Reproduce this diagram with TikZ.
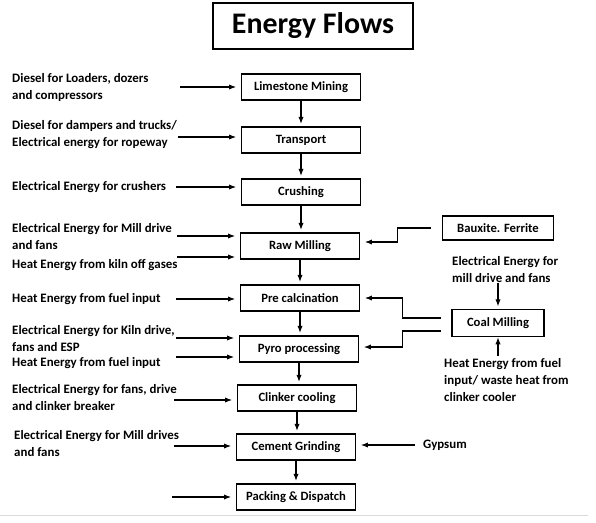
\documentclass[tikz,border=0pt]{standalone}
\usepackage{fontspec}
\setmainfont{Carlito}
\usetikzlibrary{arrows.meta, positioning, calc}

\begin{document}
\begin{tikzpicture}[
    x=0.03cm, y=-0.03cm,
    stage/.style={rectangle, draw, line width=1.3pt, minimum width=3.57cm, minimum height=0.78cm, inner sep=0pt, font=\bfseries\fontsize{10.8}{12}\selectfont},
    input/.style={anchor=west, align=left, inner sep=0pt, font=\bfseries\fontsize{11}{14.5}\selectfont},
    arrow/.style={-{Latex[length=6pt, width=4.5pt]}, line width=0.9pt},
    feed/.style={arrow, shorten >=4pt}
]

    % Frame of the page
    \useasboundingbox (0,0) rectangle (596,522);
    \draw[black!15, line width=0.8pt] (0,515) -- (588,515);

    % Title
    \node[draw, line width=1pt, minimum width=6cm, minimum height=1.38cm, font=\bfseries\fontsize{25.5}{30}\selectfont] (title) at (313,26) {Energy Flows};

    % --- Process chain ---
    \node[stage] (mining) at (301,87) {Limestone Mining};
    \node[stage] (transport) at (301,140) {Transport};
    \node[stage] (crushing) at (301,192) {Crushing};
    \node[stage] (rawmill) at (300,246) {Raw Milling};
    \node[stage] (precalc) at (300,298) {Pre calcination};
    \node[stage] (pyro) at (299,349) {Pyro processing};
    \node[stage] (cooling) at (297,398) {Clinker cooling};
    \node[stage] (grinding) at (296,447) {Cement Grinding};
    \node[stage] (packing) at (296,497) {Packing \& Dispatch};

    \foreach \a/\b in {mining/transport, transport/crushing, crushing/rawmill, rawmill/precalc,
        precalc/pyro, pyro/cooling, cooling/grinding, grinding/packing}
        \draw[arrow, shorten >=2pt] (\a.south) -- (\a.south |- \b.north);

    % --- Left side inputs ---
    \node[input] (dieselLoad) at (12,87) {Diesel for Loaders, dozers\\and compressors};
    \node[input] (dieselTruck) at (12,135) {Diesel for dampers and trucks/\\Electrical energy for ropeway};
    \node[input] (elecCrush) at (12,187) {Electrical Energy for crushers};
    \node[input] (elecRaw) at (12,237) {Electrical Energy for Mill drive\\and fans};
    \node[input] (heatKiln) at (12,265) {Heat Energy from kiln off gases};
    \node[input] (heatPre) at (12,299) {Heat Energy from fuel input};
    \node[input] (elecKiln) at (12,339) {Electrical Energy for Kiln drive,\\fans and ESP};
    \node[input] (heatPyro) at (12,363) {Heat Energy from fuel input};
    \node[input] (elecCool) at (12,398) {Electrical Energy for fans, drive\\and clinker breaker};
    \node[input] (elecGrind) at (14,444) {Electrical Energy for Mill drives\\and fans};

    \foreach \x/\y/\tgt in {180/87/mining, 178/137/transport, 176/187/crushing, 177/236/rawmill,
        177/257/rawmill, 176/299/precalc, 176/338/pyro, 176/357/pyro, 174/400/cooling,
        174/446/grinding, 172/497/packing} {
        \coordinate (tail) at (\x,\y);
        \draw[feed] (tail) -- (tail -| \tgt.west);
    }

    % --- Right side inputs ---
    \node[stage, minimum width=3.33cm, minimum height=0.72cm] (bauxite) at (498,228) {Bauxite. Ferrite};
    \node[stage, minimum width=2.76cm, minimum height=0.81cm] (coal) at (498,323) {Coal Milling};
    \node[input] (elecCoal) at (452,270) {Electrical Energy for\\mill drive and fans};
    \node[input] (heatCoal) at (444,380) {Heat Energy from fuel\\input/ waste heat from\\clinker cooler};
    \node[input] (gypsum) at (423,445) {Gypsum};

    \draw[feed] ($(bauxite.west)+(-11,0)$) -- ++(-33,0) |- ($(rawmill.east)+(0,-4)$);
    \draw[feed] ($(coal.west)+(-10,-5)$) -- ++(-39,0) |- (precalc.east);
    \draw[feed] ($(coal.west)+(-10,8)$) -- ++(-39,0) |- ($(pyro.east)+(0,-2)$);
    \draw[arrow, shorten >=2pt] (elecCoal.south -| coal.north) -- (coal.north);
    \draw[arrow, shorten <=2pt] (heatCoal.north -| coal.south) -- (coal.south);
    \draw[feed] ($(gypsum.west)+(-8,0)$) -- (gypsum.west -| grinding.east);

\end{tikzpicture}
\end{document}
